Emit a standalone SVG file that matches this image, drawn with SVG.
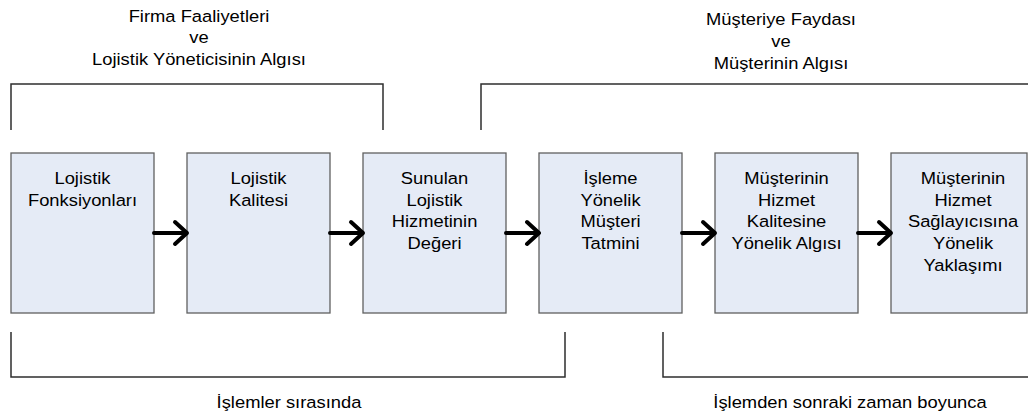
<svg xmlns="http://www.w3.org/2000/svg" width="1028" height="419" viewBox="0 0 1028 419">
  <style>
    .box { fill: #e5ebf6; stroke: #606060; stroke-width: 1.3; }
    .t { font-family: "Liberation Sans", Arial, sans-serif; font-size: 17px; fill: #000; text-anchor: middle; }
    .brk { fill: none; stroke: #2e2e2e; stroke-width: 1.5; }
    .arr { fill: none; stroke: #000; stroke-width: 4; stroke-linecap: round; stroke-linejoin: round; }
  </style>
  <rect width="1028" height="419" fill="#fff"/>

  <!-- group brackets and their captions -->
  <g id="brackets">
    <path class="brk" d="M11 130 V84 H383 V130"/>
    <path class="brk" d="M481 130 V84 H1028"/>
    <path class="brk" d="M11 332 V377 H565 V332"/>
    <path class="brk" d="M663 332 V377 H1028"/>
  </g>
  <g id="captions">
    <text class="t" transform="translate(199 0) scale(1.08 1)"><tspan x="0" y="22">Firma Faaliyetleri</tspan><tspan x="0" y="43.5">ve</tspan><tspan x="0" y="65">Lojistik Yöneticisinin Algısı</tspan></text>
    <text class="t" transform="translate(781 0) scale(1.08 1)"><tspan x="0" y="25">Müşteriye Faydası</tspan><tspan x="0" y="47">ve</tspan><tspan x="0" y="69">Müşterinin Algısı</tspan></text>
    <text class="t" transform="translate(289 0) scale(1.08 1)" x="0" y="408">İşlemler sırasında</text>
    <text class="t" transform="translate(850 0) scale(1.08 1)" x="0" y="408">İşlemden sonraki zaman boyunca</text>
  </g>

  <!-- process steps -->
  <g id="n1">
    <rect class="box" x="11" y="153" width="143" height="160"/>
    <text class="t" transform="translate(82.5 0) scale(1.08 1)"><tspan x="0" y="184">Lojistik</tspan><tspan x="0" y="205.7">Fonksiyonları</tspan></text>
  </g>
  <g id="n2">
    <rect class="box" x="187" y="153" width="143" height="160"/>
    <text class="t" transform="translate(258.5 0) scale(1.08 1)"><tspan x="0" y="184">Lojistik</tspan><tspan x="0" y="205.7">Kalitesi</tspan></text>
  </g>
  <g id="n3">
    <rect class="box" x="363" y="153" width="143" height="160"/>
    <text class="t" transform="translate(434.5 0) scale(1.08 1)"><tspan x="0" y="184">Sunulan</tspan><tspan x="0" y="205.7">Lojistik</tspan><tspan x="0" y="227.4">Hizmetinin</tspan><tspan x="0" y="249.1">Değeri</tspan></text>
  </g>
  <g id="n4">
    <rect class="box" x="539" y="153" width="143" height="160"/>
    <text class="t" transform="translate(610.5 0) scale(1.08 1)"><tspan x="0" y="184">İşleme</tspan><tspan x="0" y="205.7">Yönelik</tspan><tspan x="0" y="227.4">Müşteri</tspan><tspan x="0" y="249.1">Tatmini</tspan></text>
  </g>
  <g id="n5">
    <rect class="box" x="715" y="153" width="143" height="160"/>
    <text class="t" transform="translate(786.5 0) scale(1.08 1)"><tspan x="0" y="184">Müşterinin</tspan><tspan x="0" y="205.7">Hizmet</tspan><tspan x="0" y="227.4">Kalitesine</tspan><tspan x="0" y="249.1">Yönelik Algısı</tspan></text>
  </g>
  <g id="n6">
    <rect class="box" x="891" y="153" width="136" height="160"/>
    <text class="t" transform="translate(963 0) scale(1.08 1)"><tspan x="0" y="184">Müşterinin</tspan><tspan x="0" y="205.7">Hizmet</tspan><tspan x="0" y="227.4">Sağlayıcısına</tspan><tspan x="0" y="249.1">Yönelik</tspan><tspan x="0" y="270.8">Yaklaşımı</tspan></text>
  </g>

  <!-- connectors -->
  <g id="connectors">
    <path class="arr" d="M154 233 H187 M175 222 L187 233 L175 244"/>
    <path class="arr" d="M330 233 H363 M351 222 L363 233 L351 244"/>
    <path class="arr" d="M506 233 H539 M527 222 L539 233 L527 244"/>
    <path class="arr" d="M682 233 H715 M703 222 L715 233 L703 244"/>
    <path class="arr" d="M858 233 H891 M879 222 L891 233 L879 244"/>
  </g>
</svg>
